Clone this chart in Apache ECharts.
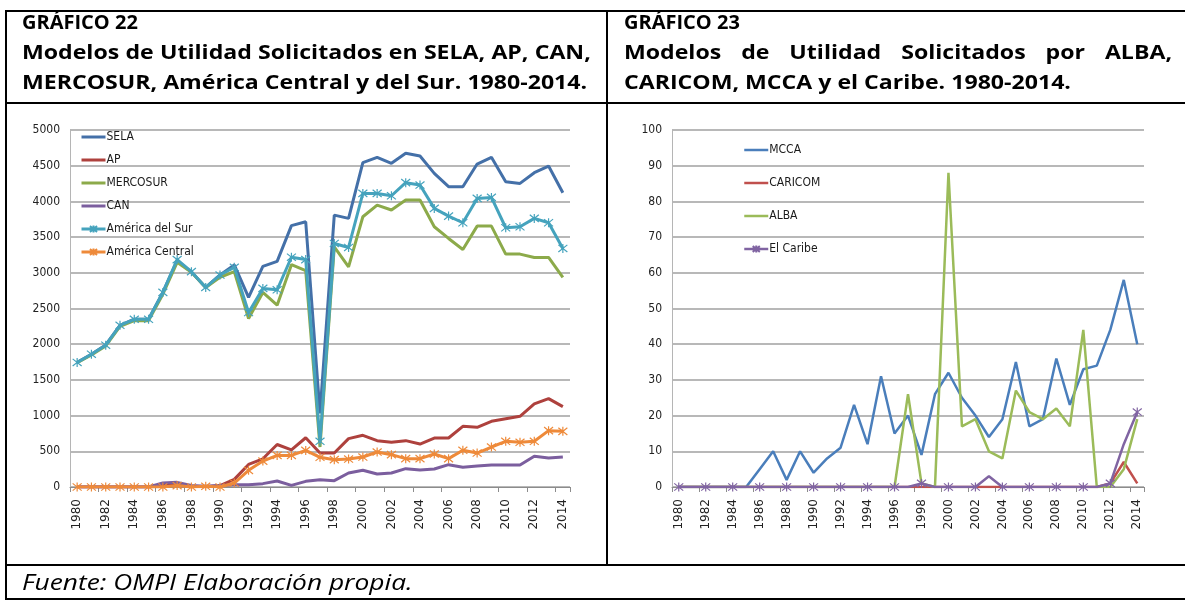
<!DOCTYPE html>
<html>
<head>
<meta charset="utf-8">
<script src="https://cdn.jsdelivr.net/npm/echarts@6/dist/echarts.min.js"></script>
<style>
  html, body { margin: 0; padding: 0; background: #fff; }
  #page { position: relative; width: 1185px; height: 602px; overflow: hidden; }
  #chart { position: absolute; left: 0; top: 0; width: 1185px; height: 602px; }
  .hl { position: absolute; height: 2px; background: #000; }
  .vl { position: absolute; width: 2px; background: #000; }
  .head {
    position: absolute; white-space: nowrap; transform-origin: 0 50%;
    font-family: 'Open Sans', 'Noto Sans', sans-serif;
    font-weight: bold; font-size: 20px; line-height: 30px; color: #000;
  }
  .foot {
    position: absolute; left: 22px; top: 566px; white-space: nowrap; transform-origin: 0 50%;
    font-family: 'Open Sans', 'Noto Sans', sans-serif;
    font-style: italic; font-size: 21px; line-height: 32px; color: #000;
  }
</style>
</head>
<body>
<div id="page">
  <div id="chart"></div>
  <!-- bordes de la tabla -->
  <div class="hl" style="left:6px; top:10px; width:1179px"></div>
  <div class="hl" style="left:6px; top:102px; width:1179px"></div>
  <div class="hl" style="left:6px; top:564px; width:1179px"></div>
  <div class="hl" style="left:6px; top:598px; width:1179px"></div>
  <div class="vl" style="left:5px; top:10px; height:590px"></div>
  <div class="vl" style="left:606px; top:10px; height:556px"></div>

  <!-- encabezados; data-w = ancho que ocupa la línea en el original -->
  <div class="head" style="left:22px; top:7px">GRÁFICO 22</div>
  <div class="head" id="l2" style="left:22px; top:37px" data-w="569" data-just="1">Modelos de Utilidad Solicitados en SELA, AP, CAN,</div>
  <div class="head" id="l3" style="left:22px; top:67px" data-w="565">MERCOSUR, América Central y del Sur. 1980-2014.</div>

  <div class="head" style="left:624px; top:7px">GRÁFICO 23</div>
  <div class="head" id="r2" style="left:624px; top:37px" data-w="548" data-just="1">Modelos de Utilidad Solicitados por ALBA,</div>
  <div class="head" id="r3" style="left:624px; top:67px" data-w="470">CARICOM, MCCA y el Caribe. 1980-2014.</div>

  <div class="foot" id="foot" data-w="391">Fuente: OMPI Elaboración propia.</div>
</div>

<script>
// años (eje x)
var years = ['1980','1981','1982','1983','1984','1985','1986','1987','1988','1989',
             '1990','1991','1992','1993','1994','1995','1996','1997','1998','1999',
             '2000','2001','2002','2003','2004','2005','2006','2007','2008','2009',
             '2010','2011','2012','2013','2014']

// Gráfico 22
var sela = [1745,1860,1990,2265,2350,2350,2725,3170,3010,2795,
            2970,3110,2655,3090,3160,3660,3715,1030,3808,3762,
            4542,4617,4533,4673,4636,4393,4206,4206,4523,4617,
            4276,4252,4402,4495,4121]
var ap = [0,0,0,0,0,0,20,30,10,5,
          20,107,316,395,595,521,690,476,476,677,
          724,649,626,649,602,686,686,850,836,920,
          957,990,1163,1238,1125]
var mercosur = [1740,1850,1975,2250,2330,2330,2700,3147,3007,2795,
                2936,3016,2360,2725,2547,3114,3030,560,3364,3084,
                3785,3949,3879,4019,4019,3645,3481,3327,3654,3654,
                3262,3262,3215,3215,2935]
var can = [0,0,0,0,0,0,56,65,20,10,
           20,30,33,47,84,23,79,103,89,196,
           234,182,196,257,238,252,313,276,294,308,
           308,308,430,406,420]
var amSur = [1744,1860,1986,2265,2349,2349,2725,3185,3016,2795,
             2969,3077,2444,2781,2762,3218,3185,640,3411,3355,
             4112,4112,4079,4262,4229,3902,3794,3701,4042,4056,
             3631,3645,3762,3701,3341]
var amCentral = [0,0,0,0,0,0,0,20,0,10,
                 0,56,233,363,442,442,512,416,383,392,
                 420,490,453,397,397,462,397,514,476,560,
                 640,626,640,789,780]

// Gráfico 23
var mcca = [0,0,0,0,0,0,5,10,2,10,
            4,8,11,23,12,31,15,20,9,26,
            32,25,20,14,19,35,17,19,36,23,
            33,34,44,58,40]
var caricom = [0,0,0,0,0,0,0,0,0,0,
               0,0,0,0,0,0,0,0,0,0,
               0,0,0,0,0,0,0,0,0,0,
               0,0,1,7,1]
var alba = [0,0,0,0,0,0,0,0,0,0,
            0,0,0,0,0,0,0,26,1,0,
            88,17,19,10,8,27,21,19,22,17,
            44,0,0,5,19]
var elCaribe = [0,0,0,0,0,0,0,0,0,0,
                0,0,0,0,0,0,0,0,1,0,
                0,0,0,3,0,0,0,0,0,0,
                0,0,1,12,21]

// ensanchar el texto como en el original (fuente más ancha)
function fitText () {
  var base = document.getElementById('l3')
  var s = base.dataset.w / base.scrollWidth
  ;['l2', 'l3', 'r2', 'r3'].forEach(function (id) {
    var el = document.getElementById(id)
    if (el.dataset.just) {
      var spaces = el.textContent.split(' ').length - 1
      var extra = (el.dataset.w / s - el.scrollWidth) / spaces
      if (extra > 0) el.style.wordSpacing = extra + 'px'
    }
    el.style.transform = 'scaleX(' + s + ')'
  })
  var f = document.getElementById('foot')
  f.style.transform = 'scaleX(' + (f.dataset.w / f.scrollWidth) + ')'
}
fitText()

var narrow = "'Liberation Sans Narrow', 'DejaVu Sans Condensed', sans-serif"
var star = 'path://M1,1L9,9M9,1L1,9M5,0L5,10'

function xAxisCfg (gridIndex) {
  return {
    type: 'category',
    gridIndex: gridIndex,
    data: years,
    boundaryGap: true,
    axisLine: { lineStyle: { color: '#8c8c8c', width: 1 } },
    axisTick: { show: true, length: 5, lineStyle: { color: '#8c8c8c' } },
    axisLabel: {
      interval: 1,
      rotate: 90,
      margin: 12,
      color: '#222',
      fontFamily: "'DejaVu Sans', sans-serif",
      fontSize: 12
    },
    splitLine: { show: false }
  }
}

function yAxisCfg (gridIndex, max, interval) {
  return {
    type: 'value',
    gridIndex: gridIndex,
    min: 0,
    max: max,
    interval: interval,
    axisLine: { show: true, lineStyle: { color: '#b5b5b5', width: 1 } },
    axisTick: { show: false },
    axisLabel: {
      color: '#222', fontFamily: narrow, fontSize: 12, margin: 10,
      formatter: function (v) { return String(v) }
    },
    splitLine: { lineStyle: { color: '#a0a0a0', width: 1.5 } }
  }
}

function lineSeries (name, data, color, idx, width, marker) {
  return {
    name: name,
    type: 'line',
    xAxisIndex: idx,
    yAxisIndex: idx,
    data: data,
    symbol: marker ? star : 'none',
    symbolSize: 9,
    showSymbol: !!marker,
    lineStyle: { color: color, width: width },
    itemStyle: { color: color, borderColor: color, borderWidth: 1.2 },
    emphasis: { disabled: true }
  }
}

// en la leyenda, las series sin marcador solo llevan la línea
function legendItem (name, marker) {
  if (marker) return { name: name }
  return { name: name, itemStyle: { opacity: 0 } }
}

var legendText = { fontFamily: narrow, fontSize: 12, color: '#1a1a1a', padding: [0, 0, 0, -4] }

var option = {
  animation: false,
  grid: [
    { left: 70, top: 130, width: 500, height: 357 },
    { left: 672, top: 130, width: 472, height: 357 }
  ],
  legend: [
    {
      left: 75, top: 126, orient: 'vertical',
      itemWidth: 24, itemHeight: 9, itemGap: 11,
      lineStyle: { width: 3 },
      textStyle: legendText,
      data: [legendItem('SELA'), legendItem('AP'), legendItem('MERCOSUR'), legendItem('CAN'),
             legendItem('América del Sur', true), legendItem('América Central', true)]
    },
    {
      left: 738, top: 139, orient: 'vertical',
      itemWidth: 24, itemHeight: 9, itemGap: 21,
      lineStyle: { width: 2.5 },
      textStyle: legendText,
      data: [legendItem('MCCA'), legendItem('CARICOM'), legendItem('ALBA'), legendItem('El Caribe', true)]
    }
  ],
  xAxis: [xAxisCfg(0), xAxisCfg(1)],
  yAxis: [yAxisCfg(0, 5000, 500), yAxisCfg(1, 100, 10)],
  series: [
    lineSeries('SELA', sela, '#4470A8', 0, 3),
    lineSeries('AP', ap, '#AE413D', 0, 3),
    lineSeries('MERCOSUR', mercosur, '#8CAA4A', 0, 3),
    lineSeries('CAN', can, '#7B5E9E', 0, 3),
    lineSeries('América del Sur', amSur, '#45A3BD', 0, 3, true),
    lineSeries('América Central', amCentral, '#EE8A3A', 0, 3, true),
    lineSeries('MCCA', mcca, '#4A7EBB', 1, 2.5),
    lineSeries('CARICOM', caricom, '#C0504D', 1, 2.5),
    lineSeries('ALBA', alba, '#9BBB59', 1, 2.5),
    lineSeries('El Caribe', elCaribe, '#8064A2', 1, 2.5, true)
  ]
}

var myChart = echarts.init(document.getElementById('chart'))
myChart.setOption(option)
</script>
</body>
</html>
